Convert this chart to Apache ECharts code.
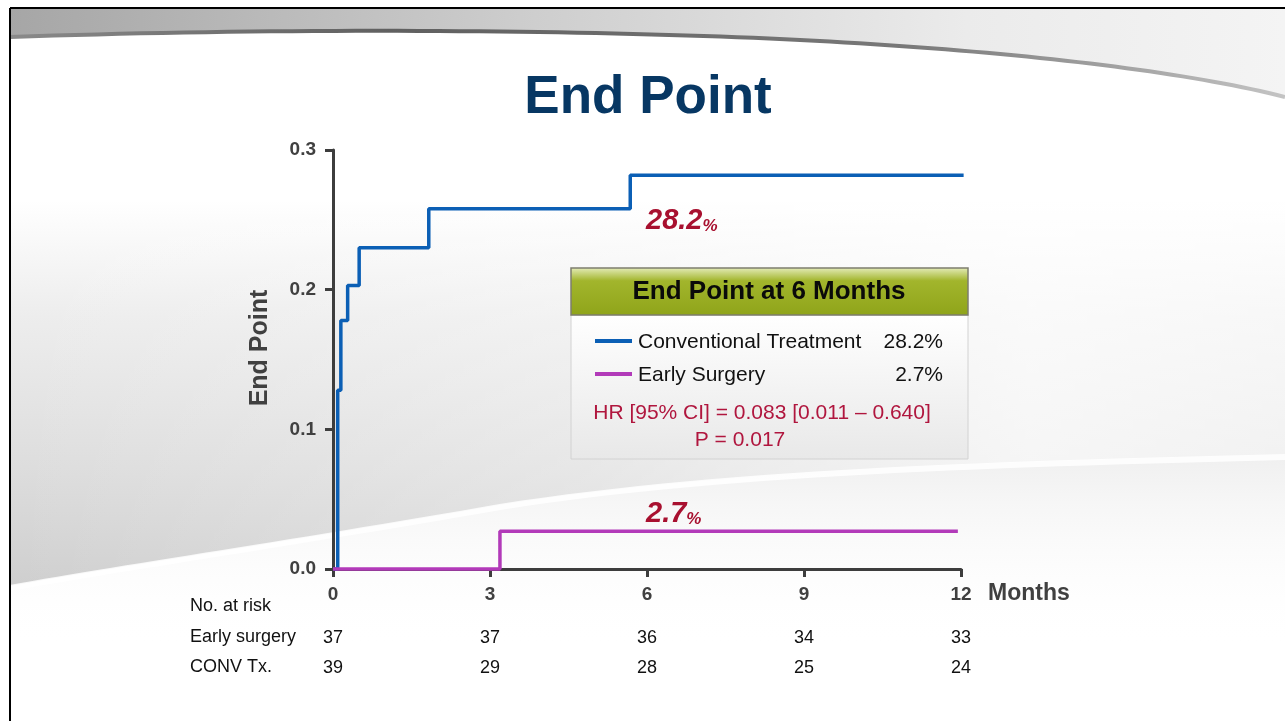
<!DOCTYPE html>
<html>
<head>
<meta charset="utf-8">
<title>End Point</title>
<script src="https://cdn.jsdelivr.net/npm/echarts@6/dist/echarts.min.js"></script>
<style>
  html, body { margin: 0; padding: 0; background: #ffffff; }
  #chart { width: 1285px; height: 721px; }
</style>
</head>
<body>
<div id="chart"></div>
<script>
// Cumulative end-point curves (months, proportion)
const convTimes  = [0, 0.09, 0.15, 0.28, 0.50, 1.83, 5.68, 12.05];
const convValues = [0, 0.128, 0.178, 0.203, 0.230, 0.258, 0.282, 0.282];
const earlyTimes  = [0, 3.19, 11.94];
const earlyValues = [0, 0.027, 0.027];

// Number at risk at each 3-month tick
const riskMonths = [0, 3, 6, 9, 12];
const earlyRisk  = [37, 37, 36, 34, 33];
const convRisk   = [39, 29, 28, 25, 24];

const yTicks = [0.0, 0.1, 0.2, 0.3];

const FONT = '"Liberation Sans", Arial, Helvetica, sans-serif';
const BLUE = '#0b5fb5';
const MAGENTA = '#b23ab9';
const CRIMSON = '#a8102f';
const AXIS = '#3d3d3d';

const pairs = (xs, ys) => xs.map((x, i) => [x, ys[i]]);
const convData = pairs(convTimes, convValues);
const earlyData = pairs(earlyTimes, earlyValues);
const convFinal = convValues[convValues.length - 1];
const earlyFinal = earlyValues[earlyValues.length - 1];
const pct = v => (v * 100).toFixed(1);

// plain gradient objects
function lin(x, y, x2, y2, stops) {
  return { type: 'linear', x: x, y: y, x2: x2, y2: y2, global: false,
    colorStops: stops.map(s => ({ offset: s[0], color: s[1] })) };
}

// sample a chain of cubic bezier segments into a point list (decorative shapes only)
function curve(start, segs, n) {
  const pts = [start];
  let p0 = start;
  segs.forEach(s => {
    const [c1, c2, p3] = s;
    for (let i = 1; i <= n; i++) {
      const t = i / n, u = 1 - t;
      pts.push([
        u * u * u * p0[0] + 3 * u * u * t * c1[0] + 3 * u * t * t * c2[0] + t * t * t * p3[0],
        u * u * u * p0[1] + 3 * u * u * t * c1[1] + 3 * u * t * t * c2[1] + t * t * t * p3[1]
      ]);
    }
    p0 = p3;
  });
  return pts;
}

const chart = echarts.init(document.getElementById('chart'), null, { renderer: 'canvas' });

function riskAxis(values, offset) {
  return {
    type: 'value', gridIndex: 0, position: 'bottom', offset: offset,
    min: 0, max: 12, interval: 3,
    axisLine: { show: false }, axisTick: { show: false }, splitLine: { show: false },
    axisLabel: {
      show: true, margin: 16, color: '#111', fontFamily: FONT, fontSize: 18,
      formatter: v => { const i = riskMonths.indexOf(v); return i >= 0 ? String(values[i]) : ''; }
    }
  };
}

// wave edge running from lower-left to right
const waveEdge = curve([10, 586], [[[120, 566], [300, 540], [500, 505]], [[720, 470], [1000, 462], [1285, 455]]], 30);
const waveBody = [[10, 200], [1285, 200]].concat(waveEdge.slice().reverse());
const waveBelow = waveEdge.concat([[1285, 650], [10, 650]]);
const swooshEdge = curve([10, 37], [[[300, 27], [600, 30], [800, 40]], [[1000, 50], [1180, 70], [1285, 97]]], 40);
const swooshBody = [[10, 9], [1285, 9]].concat(swooshEdge.slice().reverse());

// Slide backdrop: border, top swoosh, soft grey wave
const backdrop = [
  { type: 'rect', z: -40, shape: { x: 0, y: 0, width: 1285, height: 721 }, style: { fill: '#ffffff' } },
  { type: 'polygon', z: -35, shape: { points: waveBody },
    style: { fill: lin(0, 0, 0, 1, [[0, 'rgba(212,212,212,0)'], [0.3, 'rgba(212,212,212,0.42)'], [1, 'rgba(204,204,204,0.95)']]) } },
  { type: 'polygon', z: -34, shape: { points: waveBody },
    style: { fill: lin(0, 0, 1, 0, [[0, 'rgba(255,255,255,0)'], [0.45, 'rgba(255,255,255,0.3)'], [0.8, 'rgba(255,255,255,0.72)'], [1, 'rgba(255,255,255,0.6)']]) } },
  { type: 'polygon', z: -33, shape: { points: waveBelow },
    style: { fill: lin(0, 0, 0, 1, [[0, 'rgba(234,234,234,0.75)'], [1, 'rgba(255,255,255,0)']]) } },
  { type: 'polyline', z: -32, shape: { points: waveEdge.map(p => [p[0], p[1] + 2]) },
    style: { fill: null, stroke: 'rgba(255,255,255,0.85)', lineWidth: 6 } },
  { type: 'polygon', z: -31, shape: { points: swooshBody },
    style: { fill: lin(0, 0, 1, 0, [[0, '#a6a6a6'], [0.4, '#cdcdcd'], [0.75, '#ebebeb'], [1, '#f4f4f4']]) } },
  { type: 'polyline', z: -30, shape: { points: swooshEdge },
    style: { fill: null, lineWidth: 4,
      stroke: lin(0, 0, 1, 0, [[0, '#8a8a8a'], [0.3, '#606060'], [0.7, '#787878'], [1, '#c4c4c4']]) } },
  { type: 'line', z: -29, shape: { x1: 10, y1: 8, x2: 1285, y2: 8 }, style: { stroke: '#000', lineWidth: 2 } },
  { type: 'line', z: -29, shape: { x1: 10, y1: 8, x2: 10, y2: 721 }, style: { stroke: '#000', lineWidth: 2 } }
];

// Headings, axis names and the risk-table row labels
const texts = [
  { type: 'text', z: 20, style: { text: 'End Point', x: 648, y: 98, textAlign: 'center', textVerticalAlign: 'middle',
      fill: '#073763', font: 'bold 53px ' + FONT } },
  { type: 'text', z: 20, rotation: Math.PI / 2, x: 260, y: 348,
    style: { text: 'End Point', x: 0, y: 0, textAlign: 'center', textVerticalAlign: 'middle',
      fill: '#404040', font: 'bold 25px ' + FONT } },
  { type: 'text', z: 20, style: { text: 'Months', x: 988, y: 594, textAlign: 'left', textVerticalAlign: 'middle',
      fill: '#404040', font: 'bold 23px ' + FONT } },
  { type: 'text', z: 20, style: { text: 'No. at risk', x: 190, y: 606, textVerticalAlign: 'middle', fill: '#111', font: '18px ' + FONT } },
  { type: 'text', z: 20, style: { text: 'Early surgery', x: 190, y: 637, textVerticalAlign: 'middle', fill: '#111', font: '18px ' + FONT } },
  { type: 'text', z: 20, style: { text: 'CONV Tx.', x: 190, y: 667, textVerticalAlign: 'middle', fill: '#111', font: '18px ' + FONT } }
];

// Summary box at 6 months
const box = [
  { type: 'rect', z: 50, shape: { x: 571, y: 315, width: 397, height: 144 },
    style: { fill: lin(0, 0, 0, 1, [[0, 'rgba(255,255,255,0.97)'], [1, 'rgba(232,232,232,0.95)']]),
      stroke: '#d2d2d2', lineWidth: 1 } },
  { type: 'rect', z: 51, shape: { x: 571, y: 268, width: 397, height: 47 },
    style: { fill: lin(0, 0, 0, 1, [[0, '#e6edbd'], [0.28, '#a2b52c'], [1, '#8fa41a']]),
      stroke: '#7d7d6e', lineWidth: 1.5 } },
  { type: 'text', z: 52, style: { text: 'End Point at 6 Months', x: 769, y: 292, textAlign: 'center', textVerticalAlign: 'middle',
      fill: '#0a0a0a', font: 'bold 26px ' + FONT } },
  { type: 'line', z: 52, shape: { x1: 595, y1: 341, x2: 632, y2: 341 }, style: { stroke: BLUE, lineWidth: 4 } },
  { type: 'text', z: 52, style: { text: 'Conventional Treatment', x: 638, y: 342, textVerticalAlign: 'middle', fill: '#111', font: '21px ' + FONT } },
  { type: 'text', z: 52, style: { text: pct(convFinal) + '%', x: 943, y: 342, textAlign: 'right', textVerticalAlign: 'middle', fill: '#111', font: '21px ' + FONT } },
  { type: 'line', z: 52, shape: { x1: 595, y1: 374, x2: 632, y2: 374 }, style: { stroke: MAGENTA, lineWidth: 4 } },
  { type: 'text', z: 52, style: { text: 'Early Surgery', x: 638, y: 375, textVerticalAlign: 'middle', fill: '#111', font: '21px ' + FONT } },
  { type: 'text', z: 52, style: { text: pct(earlyFinal) + '%', x: 943, y: 375, textAlign: 'right', textVerticalAlign: 'middle', fill: '#111', font: '21px ' + FONT } },
  { type: 'text', z: 52, style: { text: 'HR [95% CI] = 0.083 [0.011 \u2013 0.640]', x: 762, y: 413, textAlign: 'center', textVerticalAlign: 'middle',
      fill: '#b0163e', font: '21px ' + FONT } },
  { type: 'text', z: 52, style: { text: 'P = 0.017', x: 740, y: 440, textAlign: 'center', textVerticalAlign: 'middle',
      fill: '#b0163e', font: '21px ' + FONT } }
];

function finalLabel(value, offsetY) {
  return {
    symbol: 'circle', symbolSize: 0,
    data: [{ coord: [6, value], value: value }],
    label: {
      show: true, position: 'inside', align: 'left', verticalAlign: 'middle', offset: [-1, offsetY],
      formatter: p => '{a|' + pct(p.value) + '}{b|%}',
      rich: {
        a: { fontFamily: FONT, fontSize: 29, fontWeight: 'bold', fontStyle: 'italic', color: CRIMSON, verticalAlign: 'bottom', lineHeight: 32 },
        b: { fontFamily: FONT, fontSize: 17, fontWeight: 'bold', fontStyle: 'italic', color: CRIMSON, verticalAlign: 'bottom', lineHeight: 28 }
      }
    }
  };
}

chart.setOption({
  animation: false,
  backgroundColor: 'transparent',
  grid: { left: 333, right: 324, top: 150, bottom: 152, containLabel: false },
  xAxis: [
    {
      type: 'value', min: 0, max: 12, interval: 3,
      axisLine: { show: true, onZero: false, lineStyle: { color: AXIS, width: 3 } },
      axisTick: { show: true, length: 8, lineStyle: { color: AXIS, width: 3 } },
      splitLine: { show: false },
      axisLabel: { margin: 16, color: '#404040', fontFamily: FONT, fontSize: 19, fontWeight: 'bold' }
    },
    riskAxis(earlyRisk, 44),
    riskAxis(convRisk, 74)
  ],
  yAxis: {
    type: 'value', min: 0, max: 0.3, interval: 0.1,
    axisLine: { show: true, lineStyle: { color: AXIS, width: 3 } },
    axisTick: { show: true, length: 8, lineStyle: { color: AXIS, width: 3 } },
    splitLine: { show: false },
    axisLabel: { margin: 17, color: '#404040', fontFamily: FONT, fontSize: 19, fontWeight: 'bold',
      formatter: v => { const t = yTicks.find(k => Math.abs(k - v) < 1e-9); return (t === undefined ? v : t).toFixed(1); } }
  },
  series: [
    {
      name: 'Conventional Treatment', type: 'line', step: 'end', data: convData,
      symbol: 'none', clip: false, z: 5,
      lineStyle: { color: BLUE, width: 3.5 },
      markPoint: finalLabel(convFinal, 44)
    },
    {
      name: 'Early Surgery', type: 'line', step: 'end', data: earlyData,
      symbol: 'none', clip: false, z: 6,
      lineStyle: { color: MAGENTA, width: 3.5 },
      markPoint: finalLabel(earlyFinal, -19)
    }
  ],
  graphic: { elements: backdrop.concat(texts, box) }
});
</script>
</body>
</html>
